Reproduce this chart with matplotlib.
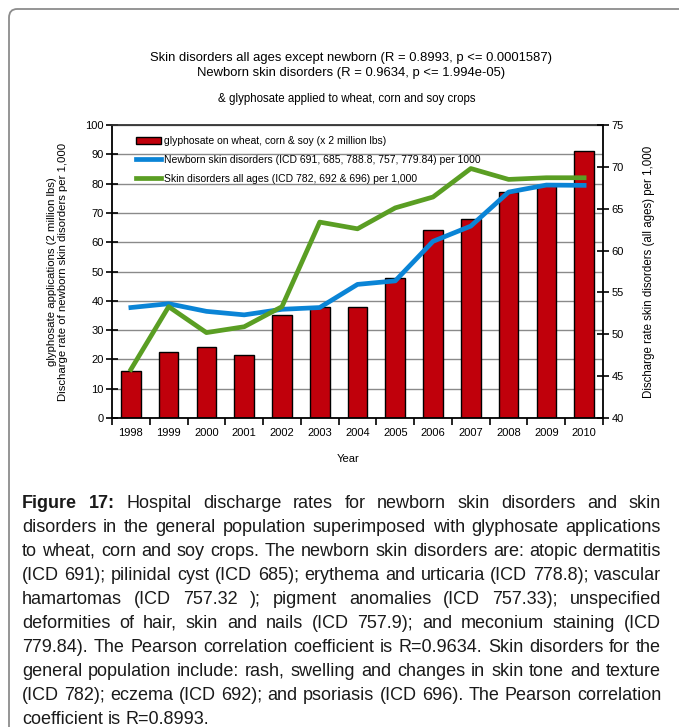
import matplotlib
matplotlib.use("Agg")
import matplotlib.pyplot as plt
from matplotlib.patches import FancyBboxPatch
import numpy as np

plt.rcParams['font.family'] = ['Liberation Sans', 'DejaVu Sans']

years = ['1998', '1999', '2000', '2001', '2002', '2003', '2004', '2005',
         '2006', '2007', '2008', '2009', '2010']
glyphosate = [16.1, 22.6, 24.1, 21.5, 35.3, 37.9, 38.0, 47.8, 64.0, 67.9, 77.2, 79.6, 91.0]
newborn = [37.7, 39.0, 36.4, 35.2, 37.1, 37.7, 45.6, 46.8, 60.3, 65.5, 77.1, 79.5, 79.4]
all_ages = [45.8, 53.3, 50.2, 50.9, 53.3, 63.4, 62.6, 65.1, 66.4, 69.8, 68.5, 68.7, 68.7]

title_lines = ["Skin disorders all ages except newborn (R = 0.8993, p <= 0.0001587)",
               "Newborn skin disorders (R = 0.9634, p <= 1.994e-05)"]
subtitle = "& glyphosate applied to wheat, corn and soy crops"
legend_labels = ["glyphosate on wheat, corn & soy (x 2 million lbs)",
                 "Newborn skin disorders (ICD 691, 685, 788.8, 757, 779.84) per 1000",
                 "Skin disorders all ages (ICD 782, 692 & 696) per 1,000"]
left_label = "glyphosate applications (2 million lbs)\nDischarge rate of newborn skin disorders per 1,000"
right_label = "Discharge rate skin disorders (all ages) per 1,000"
x_label = "Year"

caption_lines = [
    "Figure 17: Hospital discharge rates for newborn skin disorders and skin",
    "disorders in the general population superimposed with glyphosate applications",
    "to wheat, corn and soy crops. The newborn skin disorders are: atopic dermatitis",
    "(ICD 691); pilinidal cyst (ICD 685);  erythema and urticaria (ICD 778.8); vascular",
    "hamartomas (ICD 757.32 ); pigment anomalies (ICD 757.33); unspecified",
    "deformities of hair, skin and nails (ICD 757.9); and meconium staining (ICD",
    "779.84).  The Pearson correlation coefficient is R=0.9634. Skin disorders for the",
    "general population include: rash, swelling and changes in skin tone and texture",
    "(ICD 782); eczema (ICD 692); and psoriasis (ICD 696). The Pearson correlation",
    "coefficient is R=0.8993.",
]

W, H = 679, 727
fig = plt.figure(figsize=(W / 100, H / 100), dpi=100)
fig.patch.set_facecolor('white')

# frame
frame = FancyBboxPatch((9 / W, -0.05), 2.0, 1 - 9 / H + 0.05,
                       boxstyle="round,pad=0,rounding_size=0.012",
                       transform=fig.transFigure, facecolor='none',
                       edgecolor='#8c8c8c', linewidth=1.3)
fig.patches.append(frame)

L, R, T, B = 112, 603, 125, 418
ax = fig.add_axes([L / W, 1 - B / H, (R - L) / W, (B - T) / H])
x = np.arange(len(years))
ax.set_axisbelow(True)
ax.yaxis.grid(True, color='#8a8a8a', linewidth=1.0)
bars = ax.bar(x, glyphosate, width=0.52, color='#c0000b', edgecolor='black',
              linewidth=1.0, label=legend_labels[0], zorder=2)
l1, = ax.plot(x, newborn, color='#0a84d6', linewidth=3.4, label=legend_labels[1], zorder=3)
ax.set_xlim(-0.5, len(years) - 0.5)
ax.set_ylim(0, 100)
ax.set_yticks(np.arange(0, 101, 10))
ax.set_xticks(np.arange(-0.5, len(years), 1.0))
ax.set_xticklabels([])
ax.set_xticks(x, minor=True)
ax.set_xticklabels(years, minor=True)
ax.tick_params(axis='x', which='major', direction='out', length=5, width=1.2, color='black')
ax.tick_params(axis='x', which='minor', length=0, labelsize=8, pad=7)
ax.tick_params(axis='y', direction='inout', length=8, width=1.2, labelsize=8, pad=2)
for s in ['left', 'right', 'bottom', 'top']:
    ax.spines[s].set_linewidth(1.3)
ax.spines['top'].set_color('#333333')

ax2 = ax.twinx()
l2, = ax2.plot(x, all_ages, color='#5a9e23', linewidth=3.4, label=legend_labels[2], zorder=3)
ax2.set_ylim(40, 75)
ax2.set_yticks(np.arange(40, 76, 5))
ax2.tick_params(axis='y', direction='inout', length=8, width=1.2, labelsize=8, pad=2)
for s in ['left', 'right', 'bottom', 'top']:
    ax2.spines[s].set_visible(False)

leg = ax2.legend([bars, l1, l2], legend_labels, loc='upper left',
                 bbox_to_anchor=(0.04, 0.977), frameon=False, fontsize=7.5,
                 handlelength=2.4, handletextpad=0.3, labelspacing=0.85,
                 borderaxespad=0)

ax.set_ylabel(left_label, fontsize=8.2, labelpad=12, linespacing=1.2)
ax2.set_ylabel(right_label, fontsize=8.3, labelpad=14)
fig.text(348 / W, 1 - 459 / H, x_label, fontsize=8, ha='center', va='center')

fig.text(351 / W, 1 - 58 / H, title_lines[0], fontsize=9.4, ha='center', va='center')
fig.text(351 / W, 1 - 73 / H, title_lines[1], fontsize=9.4, ha='center', va='center')
fig.text(347 / W, 1 - 99 / H, subtitle, fontsize=8.3, ha='center', va='center')

# justified caption
fig.canvas.draw()
renderer = fig.canvas.get_renderer()
x0, x1 = 22, 661


def word_weights(i, words):
    wts = ['normal'] * len(words)
    if i == 0:
        wts[0] = 'bold'
        wts[1] = 'bold'
    return wts


# find font size so the widest line fits
probe = 10.0
max_nat = 0
for i, line in enumerate(caption_lines[:-1]):
    words = line.split()
    tot = 0
    for w, wt in zip(words, word_weights(i, words)):
        t = fig.text(0, 0, w, fontsize=probe, fontweight=wt)
        tot += t.get_window_extent(renderer).width
        t.remove()
    tot += (len(words) - 1) * probe * 100 / 72 * 0.278
    max_nat = max(max_nat, tot)
fs = min(probe * (x1 - x0) / max_nat * 0.995, 15.0)

y_first = 503
dy = 24.0
for i, line in enumerate(caption_lines):
    ypix = y_first + i * dy
    words = line.split()
    texts = []
    widths = []
    for w, wt in zip(words, word_weights(i, words)):
        t = fig.text(0, 1 - ypix / H, w, fontsize=fs, fontweight=wt, ha='left', va='center',
                     color='#1a1a1a')
        texts.append(t)
        widths.append(t.get_window_extent(renderer).width)
    last = (i == len(caption_lines) - 1)
    if last or len(words) == 1:
        sp = fs * 100 / 72 * 0.278
    else:
        sp = (x1 - x0 - sum(widths)) / (len(words) - 1)
    cx = x0
    for t, wd in zip(texts, widths):
        t.set_x(cx / W)
        cx += wd + sp

fig.savefig('out.png', dpi=100)
